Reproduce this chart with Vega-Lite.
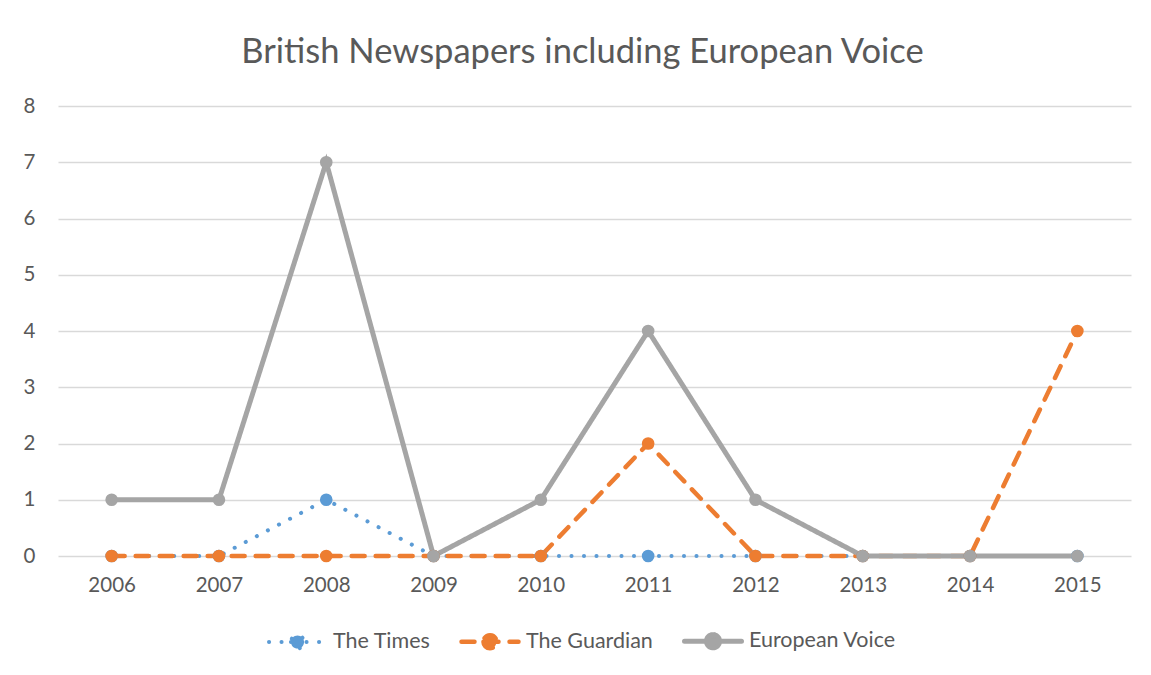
{
  "$schema": "https://vega.github.io/schema/vega-lite/v6.json",
  "width": 1073,
  "height": 450,
  "autosize": {"type": "none"},
  "padding": {"left": 58, "top": 106, "right": 20, "bottom": 119},
  "background": "white",
  "config": {"view": {"stroke": null}},
  "title": {
    "text": "British Newspapers including European Voice",
    "fontSize": 34.5,
    "font": "Lato",
    "fontWeight": "normal",
    "color": "#595959",
    "anchor": "middle",
    "offset": 26,
    "dx": -12
  },
  "data": {
    "values": [
      {"year": "2006", "series": "The Times", "value": 0},
      {"year": "2007", "series": "The Times", "value": 0},
      {"year": "2008", "series": "The Times", "value": 1},
      {"year": "2009", "series": "The Times", "value": 0},
      {"year": "2010", "series": "The Times", "value": 0},
      {"year": "2011", "series": "The Times", "value": 0},
      {"year": "2012", "series": "The Times", "value": 0},
      {"year": "2013", "series": "The Times", "value": 0},
      {"year": "2014", "series": "The Times", "value": 0},
      {"year": "2015", "series": "The Times", "value": 0},
      {"year": "2006", "series": "The Guardian", "value": 0},
      {"year": "2007", "series": "The Guardian", "value": 0},
      {"year": "2008", "series": "The Guardian", "value": 0},
      {"year": "2009", "series": "The Guardian", "value": 0},
      {"year": "2010", "series": "The Guardian", "value": 0},
      {"year": "2011", "series": "The Guardian", "value": 2},
      {"year": "2012", "series": "The Guardian", "value": 0},
      {"year": "2013", "series": "The Guardian", "value": 0},
      {"year": "2014", "series": "The Guardian", "value": 0},
      {"year": "2015", "series": "The Guardian", "value": 4},
      {"year": "2006", "series": "European Voice", "value": 1},
      {"year": "2007", "series": "European Voice", "value": 1},
      {"year": "2008", "series": "European Voice", "value": 7},
      {"year": "2009", "series": "European Voice", "value": 0},
      {"year": "2010", "series": "European Voice", "value": 1},
      {"year": "2011", "series": "European Voice", "value": 4},
      {"year": "2012", "series": "European Voice", "value": 1},
      {"year": "2013", "series": "European Voice", "value": 0},
      {"year": "2014", "series": "European Voice", "value": 0},
      {"year": "2015", "series": "European Voice", "value": 0}
    ]
  },
  "encoding": {
    "x": {
      "field": "year",
      "type": "ordinal",
      "scale": {"type": "point", "padding": 0.5},
      "axis": {
        "title": null,
        "labelAngle": 0,
        "labelFont": "Lato",
        "labelFontSize": 20.5,
        "labelColor": "#595959",
        "labelPadding": 19,
        "ticks": false,
        "domain": false,
        "grid": false
      }
    },
    "y": {
      "field": "value",
      "type": "quantitative",
      "scale": {"domain": [0, 8], "nice": false},
      "axis": {
        "title": null,
        "values": [0, 1, 2, 3, 4, 5, 6, 7, 8],
        "labelFont": "Lato",
        "labelFontSize": 20.5,
        "labelColor": "#595959",
        "labelPadding": 23,
        "ticks": false,
        "domain": false,
        "gridColor": "#d9d9d9",
        "gridWidth": 1.3
      }
    },
    "color": {
      "field": "series",
      "type": "nominal",
      "sort": ["The Times", "The Guardian", "European Voice"],
      "scale": {
        "domain": ["The Times", "The Guardian", "European Voice"],
        "range": ["#5B9BD5", "#ED7D31", "#A5A5A5"]
      },
      "legend": {
        "title": null,
        "orient": "none",
        "legendX": 209,
        "legendY": 504,
        "direction": "horizontal",
        "labelFont": "Lato",
        "labelFontSize": 21.5,
        "labelColor": "#595959",
        "columnPadding": 21,
        "symbolType": "M-1,0H1M-0.23,0A0.23,0.23 0 1,0 0.23,0A0.23,0.23 0 1,0 -0.23,0",
        "symbolSize": 3249,
        "symbolStrokeWidth": 4.5,
        "labelOffset": 5,
        "encode": {
          "symbols": {"update": {"fill": {"scale": "color", "field": "value"}, "strokeCap": {"value": "round"}}}
        }
      }
    },
    "order": {"field": "year"}
  },
  "layer": [
    {
      "mark": {"type": "line", "strokeCap": "round"},
      "encoding": {
        "strokeDash": {
          "field": "series",
          "type": "nominal",
          "scale": {
            "domain": ["The Times", "The Guardian", "European Voice"],
            "range": [[0.1, 12.4], [13, 11], [1, 0]]
          },
          "legend": null
        },
        "strokeWidth": {
          "field": "series",
          "type": "nominal",
          "scale": {
            "domain": ["The Times", "The Guardian", "European Voice"],
            "range": [4, 5, 5]
          },
          "legend": null
        }
      }
    },
    {
      "mark": {"type": "point", "filled": true, "opacity": 1, "size": 160}
    }
  ]
}
